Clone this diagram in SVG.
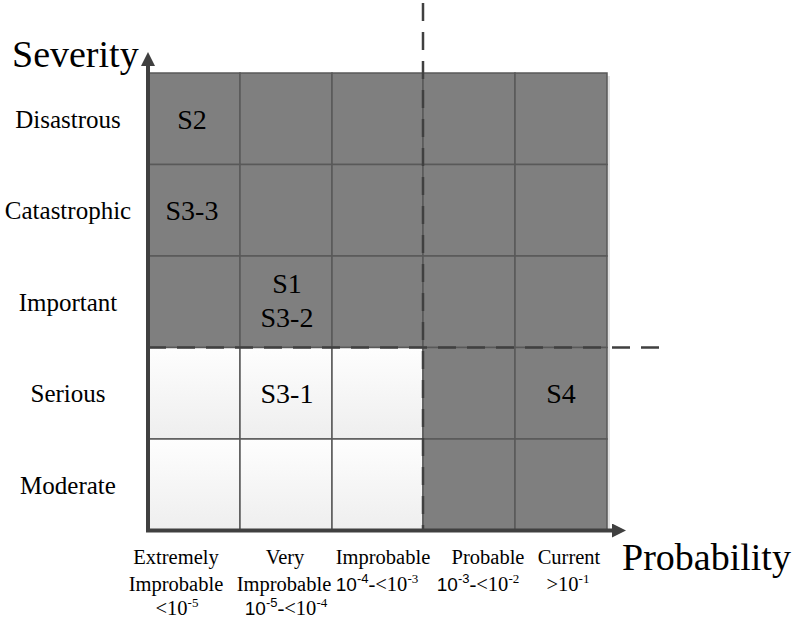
<svg xmlns="http://www.w3.org/2000/svg" width="795" height="626" viewBox="0 0 795 626">
<defs>
<linearGradient id="lg" x1="0" y1="0" x2="0" y2="1">
<stop offset="0" stop-color="#fefefe"/>
<stop offset="1" stop-color="#eeeeee"/>
</linearGradient>
<marker id="arr" viewBox="0 0 14 14" refX="2" refY="7" markerWidth="14" markerHeight="14" markerUnits="userSpaceOnUse" orient="auto">
<path d="M0,0 L14,7 L0,14 Z" fill="#404040"/>
</marker>
<style>
.dark{fill:#7f7f7f;stroke:#595959;stroke-width:1.5}
.light{fill:url(#lg);stroke:#595959;stroke-width:1.5}
.big{font-size:38px}
.row{font-size:25px;text-anchor:middle}
.cell{font-size:28px;text-anchor:middle}
.bot{font-size:20.5px;text-anchor:middle}
.axis{stroke:#404040;stroke-width:4;fill:none}
.dash{stroke:#404040;stroke-width:2.5;stroke-dasharray:18 11;fill:none}
</style>
</defs>
<rect x="607" y="76" width="3" height="454" fill="#e2e2e2"/>
<g id="cells" font-family="Liberation Serif, Times New Roman, DejaVu Serif, serif" fill="#000">
<g id="c00"><rect class="dark" x="148" y="73" width="92" height="91.5"/><text class="cell" x="192" y="129">S2</text></g>
<g id="c01"><rect class="dark" x="240" y="73" width="92" height="91.5"/></g>
<g id="c02"><rect class="dark" x="332" y="73" width="91" height="91.5"/></g>
<g id="c03"><rect class="dark" x="423" y="73" width="92" height="91.5"/></g>
<g id="c04"><rect class="dark" x="515" y="73" width="92" height="91.5"/></g>
<g id="c10"><rect class="dark" x="148" y="164.5" width="92" height="91.5"/><text class="cell" x="192" y="220">S3-3</text></g>
<g id="c11"><rect class="dark" x="240" y="164.5" width="92" height="91.5"/></g>
<g id="c12"><rect class="dark" x="332" y="164.5" width="91" height="91.5"/></g>
<g id="c13"><rect class="dark" x="423" y="164.5" width="92" height="91.5"/></g>
<g id="c14"><rect class="dark" x="515" y="164.5" width="92" height="91.5"/></g>
<g id="c20"><rect class="dark" x="148" y="256" width="92" height="91.5"/></g>
<g id="c21"><rect class="dark" x="240" y="256" width="92" height="91.5"/><text class="cell" x="287" y="293">S1</text><text class="cell" x="287" y="327">S3-2</text></g>
<g id="c22"><rect class="dark" x="332" y="256" width="91" height="91.5"/></g>
<g id="c23"><rect class="dark" x="423" y="256" width="92" height="91.5"/></g>
<g id="c24"><rect class="dark" x="515" y="256" width="92" height="91.5"/></g>
<g id="c30"><rect class="light" x="148" y="347.5" width="92" height="91.5"/></g>
<g id="c31"><rect class="light" x="240" y="347.5" width="92" height="91.5"/><text class="cell" x="287" y="403">S3-1</text></g>
<g id="c32"><rect class="light" x="332" y="347.5" width="91" height="91.5"/></g>
<g id="c33"><rect class="dark" x="423" y="347.5" width="92" height="91.5"/></g>
<g id="c34"><rect class="dark" x="515" y="347.5" width="92" height="91.5"/><text class="cell" x="561" y="403">S4</text></g>
<g id="c40"><rect class="light" x="148" y="439" width="92" height="91.5"/></g>
<g id="c41"><rect class="light" x="240" y="439" width="92" height="91.5"/></g>
<g id="c42"><rect class="light" x="332" y="439" width="91" height="91.5"/></g>
<g id="c43"><rect class="dark" x="423" y="439" width="92" height="91.5"/></g>
<g id="c44"><rect class="dark" x="515" y="439" width="92" height="91.5"/></g>
</g>
<g id="connectors">
<path class="dash" d="M423,3 V530"/>
<path class="dash" d="M148,347.5 H662"/>
<path class="axis" d="M148,532 V64" marker-end="url(#arr)"/>
<path class="axis" d="M146,530.5 H614" marker-end="url(#arr)"/>
</g>
<g id="labels" font-family="Liberation Serif, Times New Roman, DejaVu Serif, serif" fill="#000">
<g id="axis-titles">
<text class="big" x="12" y="67">Severity</text>
<text class="big" x="622" y="570">Probability</text>
</g>
<g id="row-labels">
<text class="row" x="68" y="128">Disastrous</text>
<text class="row" x="68" y="219">Catastrophic</text>
<text class="row" x="68" y="311">Important</text>
<text class="row" x="68" y="402">Serious</text>
<text class="row" x="68" y="494">Moderate</text>
</g>
<g id="col-labels">
<g id="col1">
<text class="bot" x="176" y="564">Extremely</text>
<text class="bot" x="176" y="591">Improbable</text>
<text class="bot" x="177" y="615">&lt;10<tspan font-size="13" dy="-8">-5</tspan></text>
</g>
<g id="col2">
<text class="bot" x="285" y="564">Very</text>
<text class="bot" x="284" y="591">Improbable</text>
<text class="bot" x="286" y="615"><tspan font-family="Liberation Sans, Arial, sans-serif" font-size="19">10</tspan><tspan font-family="Liberation Sans, Arial, sans-serif" font-size="13" dy="-8">-5</tspan><tspan dy="8">-&lt;10</tspan><tspan font-size="13" dy="-8">-4</tspan></text>
</g>
<g id="col3">
<text class="bot" x="383" y="564">Improbable</text>
<text class="bot" x="377" y="591"><tspan font-family="Liberation Sans, Arial, sans-serif" font-size="19">10</tspan><tspan font-family="Liberation Sans, Arial, sans-serif" font-size="13" dy="-8">-4</tspan><tspan dy="8">-&lt;10</tspan><tspan font-size="13" dy="-8">-3</tspan></text>
</g>
<g id="col4">
<text class="bot" x="488" y="564">Probable</text>
<text class="bot" x="478" y="591"><tspan font-family="Liberation Sans, Arial, sans-serif" font-size="19">10</tspan><tspan font-family="Liberation Sans, Arial, sans-serif" font-size="13" dy="-8">-3</tspan><tspan dy="8">-&lt;10</tspan><tspan font-size="13" dy="-8">-2</tspan></text>
</g>
<g id="col5">
<text class="bot" x="569" y="564">Current</text>
<text class="bot" x="568" y="591">&gt;10<tspan font-size="13" dy="-8">-1</tspan></text>
</g>
</g>
</g>
</svg>
